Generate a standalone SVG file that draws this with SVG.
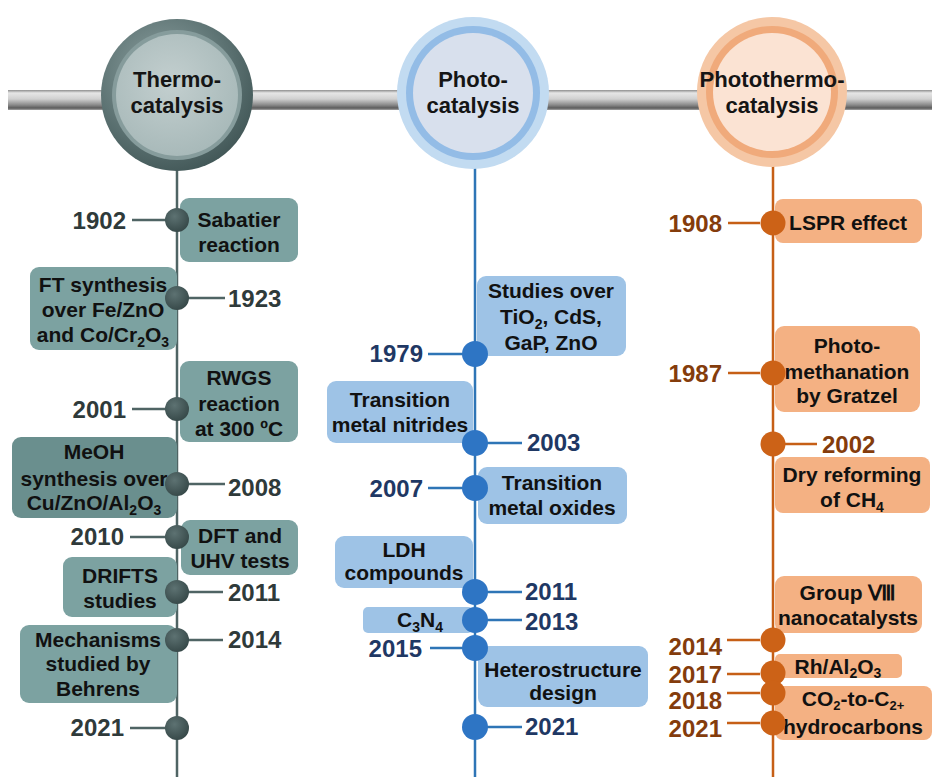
<svg xmlns="http://www.w3.org/2000/svg" width="932" height="777" viewBox="0 0 932 777">
<defs>
<linearGradient id="bar" x1="0" y1="0" x2="0" y2="1">
<stop offset="0" stop-color="#8e8e8e"/>
<stop offset="0.15" stop-color="#e6e6e6"/>
<stop offset="0.45" stop-color="#d0d0d0"/>
<stop offset="0.75" stop-color="#8a8a8a"/>
<stop offset="0.9" stop-color="#5c5c5c"/>
<stop offset="1" stop-color="#a4a4a4"/>
</linearGradient>
<radialGradient id="g1o" cx="0.4" cy="0.35" r="0.75">
<stop offset="0" stop-color="#8fa3a3"/>
<stop offset="0.6" stop-color="#5c7272"/>
<stop offset="1" stop-color="#3b5050"/>
</radialGradient>
<radialGradient id="g1i" cx="0.45" cy="0.4" r="0.7">
<stop offset="0" stop-color="#c3cfcf"/>
<stop offset="1" stop-color="#a4b6b6"/>
</radialGradient>
<radialGradient id="dl" cx="0.4" cy="0.35" r="0.7">
<stop offset="0" stop-color="#5d7272"/>
<stop offset="1" stop-color="#354747"/>
</radialGradient>
<style>
.yr1{font-family:"Liberation Sans",Arial,sans-serif;font-weight:bold;font-size:24px;fill:#2f3a3a}
.yr2{font-family:"Liberation Sans",Arial,sans-serif;font-weight:bold;font-size:24px;fill:#1f3864}
.yr3{font-family:"Liberation Sans",Arial,sans-serif;font-weight:bold;font-size:24px;fill:#843c0c}
.bt{font-family:"Liberation Sans",Arial,sans-serif;font-weight:bold;font-size:21px;fill:#111;text-anchor:middle}
.tt{font-family:"Liberation Sans",Arial,sans-serif;font-weight:bold;font-size:22px;fill:#151515;text-anchor:middle}
.e{text-anchor:end}
.bl{fill:#7ca2a1}
.bm{fill:#9ec3e6}
.br{fill:#f4b183}
.l1{stroke:#4f6464;stroke-width:2.5;fill:none}
.l2{stroke:#2e75b6;stroke-width:2.5;fill:none}
.l3{stroke:#c65f16;stroke-width:2.5;fill:none}
.d1{fill:url(#dl)}
.d2{fill:#2e75c4}
.d3{fill:#cc6217}
</style>
</defs>
<rect x="0" y="0" width="932" height="777" fill="#ffffff"/>
<rect id="timeline-bar" x="8" y="90" width="924" height="20" fill="url(#bar)"/>

<g id="connectors">
<line class="l1" x1="177" y1="168" x2="177" y2="777"/>
<line class="l2" x1="475" y1="168" x2="475" y2="777"/>
<line class="l3" x1="773" y1="166" x2="773" y2="777"/>
<g class="l1">
<line x1="132" y1="220" x2="168" y2="220"/>
<line x1="188" y1="298" x2="225" y2="298"/>
<line x1="132" y1="409" x2="168" y2="409"/>
<line x1="188" y1="484" x2="225" y2="484"/>
<line x1="130" y1="537" x2="168" y2="537"/>
<line x1="188" y1="592" x2="223" y2="592"/>
<line x1="188" y1="640" x2="223" y2="640"/>
<line x1="130" y1="728" x2="168" y2="728"/>
</g>
<g class="l2">
<line x1="428" y1="354" x2="463" y2="354"/>
<line x1="487" y1="443" x2="522" y2="443"/>
<line x1="428" y1="488" x2="463" y2="488"/>
<line x1="487" y1="592" x2="522" y2="592"/>
<line x1="487" y1="620" x2="522" y2="620"/>
<line x1="430" y1="648" x2="463" y2="648"/>
<line x1="487" y1="727" x2="522" y2="727"/>
</g>
<g class="l3">
<line x1="728" y1="223" x2="760" y2="223"/>
<line x1="728" y1="373" x2="760" y2="373"/>
<line x1="785" y1="444" x2="817" y2="444"/>
<line x1="727" y1="640" x2="760" y2="640"/>
<line x1="727" y1="674" x2="760" y2="674"/>
<line x1="727" y1="693" x2="760" y2="693"/>
<line x1="727" y1="723" x2="760" y2="723"/>
</g>
</g>

<g id="head-thermo">
<circle cx="177" cy="95" r="76" fill="url(#g1o)"/>
<circle cx="177" cy="95" r="65" fill="#869c9c"/>
<circle cx="177" cy="95" r="61" fill="url(#g1i)"/>
<text class="tt" x="177" y="87">Thermo-</text>
<text class="tt" x="177" y="113">catalysis</text>
</g>
<g id="head-photo">
<circle cx="473" cy="93" r="76" fill="#c2dbf1"/>
<circle cx="473" cy="93" r="67" fill="#93bce6"/>
<circle cx="473" cy="93" r="60" fill="#d8e0ed"/>
<text class="tt" x="473" y="87">Photo-</text>
<text class="tt" x="473" y="113">catalysis</text>
</g>
<g id="head-photothermo">
<circle cx="772" cy="92" r="75" fill="#f5c7a5"/>
<circle cx="772" cy="92" r="66" fill="#f0aa7b"/>
<circle cx="772" cy="92" r="59" fill="#fbe3d3"/>
<text class="tt" x="772" y="87" textLength="145" lengthAdjust="spacingAndGlyphs">Photothermo-</text>
<text class="tt" x="772" y="113">catalysis</text>
</g>

<!-- Thermo-catalysis column -->
<g id="t1902">
<rect class="bl" x="180" y="198" width="118" height="64" rx="9"/>
<text class="bt" x="239" y="227">Sabatier</text>
<text class="bt" x="239" y="252">reaction</text>
<circle class="d1" cx="177" cy="220" r="12"/>
<text class="yr1 e" x="126" y="229">1902</text>
</g>
<g id="t1923">
<rect class="bl" x="30" y="267" width="147" height="83" rx="9"/>
<text class="bt" x="103" y="292">FT synthesis</text>
<text class="bt" x="103" y="317">over Fe/ZnO</text>
<text class="bt" x="103" y="342">and Co/Cr<tspan dy="5" font-size="14">2</tspan><tspan dy="-5">O</tspan><tspan dy="5" font-size="14">3</tspan></text>
<circle class="d1" cx="177" cy="298" r="12"/>
<text class="yr1" x="228" y="307">1923</text>
</g>
<g id="t2001">
<rect class="bl" x="180" y="361" width="118" height="81" rx="9"/>
<text class="bt" x="239" y="385">RWGS</text>
<text class="bt" x="239" y="411">reaction</text>
<text class="bt" x="239" y="436">at 300 ºC</text>
<circle class="d1" cx="177" cy="409" r="12"/>
<text class="yr1 e" x="126" y="418">2001</text>
</g>
<g id="t2008">
<rect x="12" y="437" width="165" height="81" rx="9" fill="#6a8f8e"/>
<text class="bt" x="94" y="459">MeOH</text>
<text class="bt" x="94" y="486">synthesis over</text>
<text class="bt" x="94" y="510">Cu/ZnO/Al<tspan dy="5" font-size="14">2</tspan><tspan dy="-5">O</tspan><tspan dy="5" font-size="14">3</tspan></text>
<circle class="d1" cx="177" cy="484" r="12"/>
<text class="yr1" x="228" y="496">2008</text>
</g>
<g id="t2010">
<rect class="bl" x="181" y="520" width="117" height="55" rx="9"/>
<text class="bt" x="240" y="543">DFT and</text>
<text class="bt" x="240" y="568">UHV tests</text>
<circle class="d1" cx="177" cy="537" r="12"/>
<text class="yr1 e" x="124" y="545">2010</text>
</g>
<g id="t2011">
<rect class="bl" x="63" y="557" width="114" height="60" rx="9"/>
<text class="bt" x="120" y="583">DRIFTS</text>
<text class="bt" x="120" y="608">studies</text>
<circle class="d1" cx="177" cy="592" r="12"/>
<text class="yr1" x="228" y="601">2011</text>
</g>
<g id="t2014">
<rect class="bl" x="20" y="625" width="157" height="78" rx="9"/>
<text class="bt" x="98" y="647">Mechanisms</text>
<text class="bt" x="98" y="671">studied by</text>
<text class="bt" x="98" y="696">Behrens</text>
<circle class="d1" cx="177" cy="640" r="12"/>
<text class="yr1" x="228" y="648">2014</text>
</g>
<g id="t2021">
<circle class="d1" cx="177" cy="728" r="12"/>
<text class="yr1 e" x="124" y="736">2021</text>
</g>

<!-- Photo-catalysis column -->
<g id="p1979">
<rect class="bm" x="477" y="276" width="149" height="80" rx="9"/>
<text class="bt" x="551" y="298">Studies over</text>
<text class="bt" x="551" y="324">TiO<tspan dy="5" font-size="14">2</tspan><tspan dy="-5">, CdS,</tspan></text>
<text class="bt" x="551" y="350">GaP, ZnO</text>
<circle class="d2" cx="475" cy="354" r="13"/>
<text class="yr2 e" x="423" y="362">1979</text>
</g>
<g id="p2003">
<rect class="bm" x="327" y="381" width="146" height="62" rx="9"/>
<text class="bt" x="400" y="407">Transition</text>
<text class="bt" x="400" y="432">metal nitrides</text>
<circle class="d2" cx="475" cy="443" r="13"/>
<text class="yr2" x="527" y="451">2003</text>
</g>
<g id="p2007">
<rect class="bm" x="478" y="467" width="149" height="57" rx="9"/>
<text class="bt" x="552" y="490">Transition</text>
<text class="bt" x="552" y="515">metal oxides</text>
<circle class="d2" cx="475" cy="488" r="13"/>
<text class="yr2 e" x="423" y="497">2007</text>
</g>
<g id="p2011">
<rect class="bm" x="335" y="536" width="138" height="52" rx="9"/>
<text class="bt" x="404" y="557">LDH</text>
<text class="bt" x="404" y="580">compounds</text>
<circle class="d2" cx="475" cy="592" r="13"/>
<text class="yr2" x="525" y="600">2011</text>
</g>
<g id="p2013">
<rect class="bm" x="363" y="607" width="110" height="26" rx="5"/>
<text class="bt" x="420" y="627">C<tspan dy="5" font-size="14">3</tspan><tspan dy="-5">N</tspan><tspan dy="5" font-size="14">4</tspan></text>
<circle class="d2" cx="475" cy="620" r="13"/>
<text class="yr2" x="525" y="630">2013</text>
</g>
<g id="p2015">
<rect class="bm" x="478" y="646" width="170" height="61" rx="9"/>
<text class="bt" x="563" y="677">Heterostructure</text>
<text class="bt" x="563" y="700">design</text>
<circle class="d2" cx="475" cy="648" r="13"/>
<text class="yr2 e" x="422" y="657">2015</text>
</g>
<g id="p2021">
<circle class="d2" cx="475" cy="727" r="13"/>
<text class="yr2" x="525" y="735">2021</text>
</g>

<!-- Photothermo-catalysis column -->
<g id="pt1908">
<rect class="br" x="775" y="199" width="147" height="44" rx="8"/>
<text class="bt" x="848" y="230">LSPR effect</text>
<circle class="d3" cx="773" cy="223" r="12.5"/>
<text class="yr3 e" x="722" y="232">1908</text>
</g>
<g id="pt1987">
<rect class="br" x="775" y="326" width="145" height="86" rx="9"/>
<text class="bt" x="847" y="353">Photo-</text>
<text class="bt" x="847" y="379">methanation</text>
<text class="bt" x="847" y="403">by Gratzel</text>
<circle class="d3" cx="773" cy="373" r="12.5"/>
<text class="yr3 e" x="722" y="382">1987</text>
</g>
<g id="pt2002">
<rect class="br" x="775" y="457" width="155" height="56" rx="8"/>
<text class="bt" x="852" y="482">Dry reforming</text>
<text class="bt" x="852" y="507">of CH<tspan dy="5" font-size="14">4</tspan></text>
<circle class="d3" cx="773" cy="444" r="12.5"/>
<text class="yr3" x="822" y="453">2002</text>
</g>
<g id="pt2014">
<rect class="br" x="775" y="576" width="147" height="57" rx="9"/>
<text class="bt" x="848" y="600">Group Ⅷ</text>
<text class="bt" x="848" y="625">nanocatalysts</text>
<circle class="d3" cx="773" cy="640" r="12.5"/>
<text class="yr3 e" x="722" y="655">2014</text>
</g>
<g id="pt2017">
<rect class="br" x="775" y="654" width="127" height="24" rx="5"/>
<text class="bt" x="838" y="674">Rh/Al<tspan dy="4" font-size="14">2</tspan><tspan dy="-4">O</tspan><tspan dy="4" font-size="14">3</tspan></text>
<circle class="d3" cx="773" cy="673" r="12.5"/>
<text class="yr3 e" x="722" y="683" font-size="23">2017</text>
</g>
<g id="pt2018">
<rect class="br" x="775" y="686" width="157" height="54" rx="8"/>
<text class="bt" x="853" y="706">CO<tspan dy="4" font-size="13">2</tspan><tspan dy="-4">-to-C</tspan><tspan dy="4" font-size="13">2+</tspan></text>
<text class="bt" x="853" y="734">hydrocarbons</text>
<circle class="d3" cx="773" cy="693" r="12.5"/>
<text class="yr3 e" x="722" y="709" font-size="23">2018</text>
</g>
<g id="pt2021">
<circle class="d3" cx="773" cy="723" r="12.5"/>
<text class="yr3 e" x="722" y="737">2021</text>
</g>
</svg>
